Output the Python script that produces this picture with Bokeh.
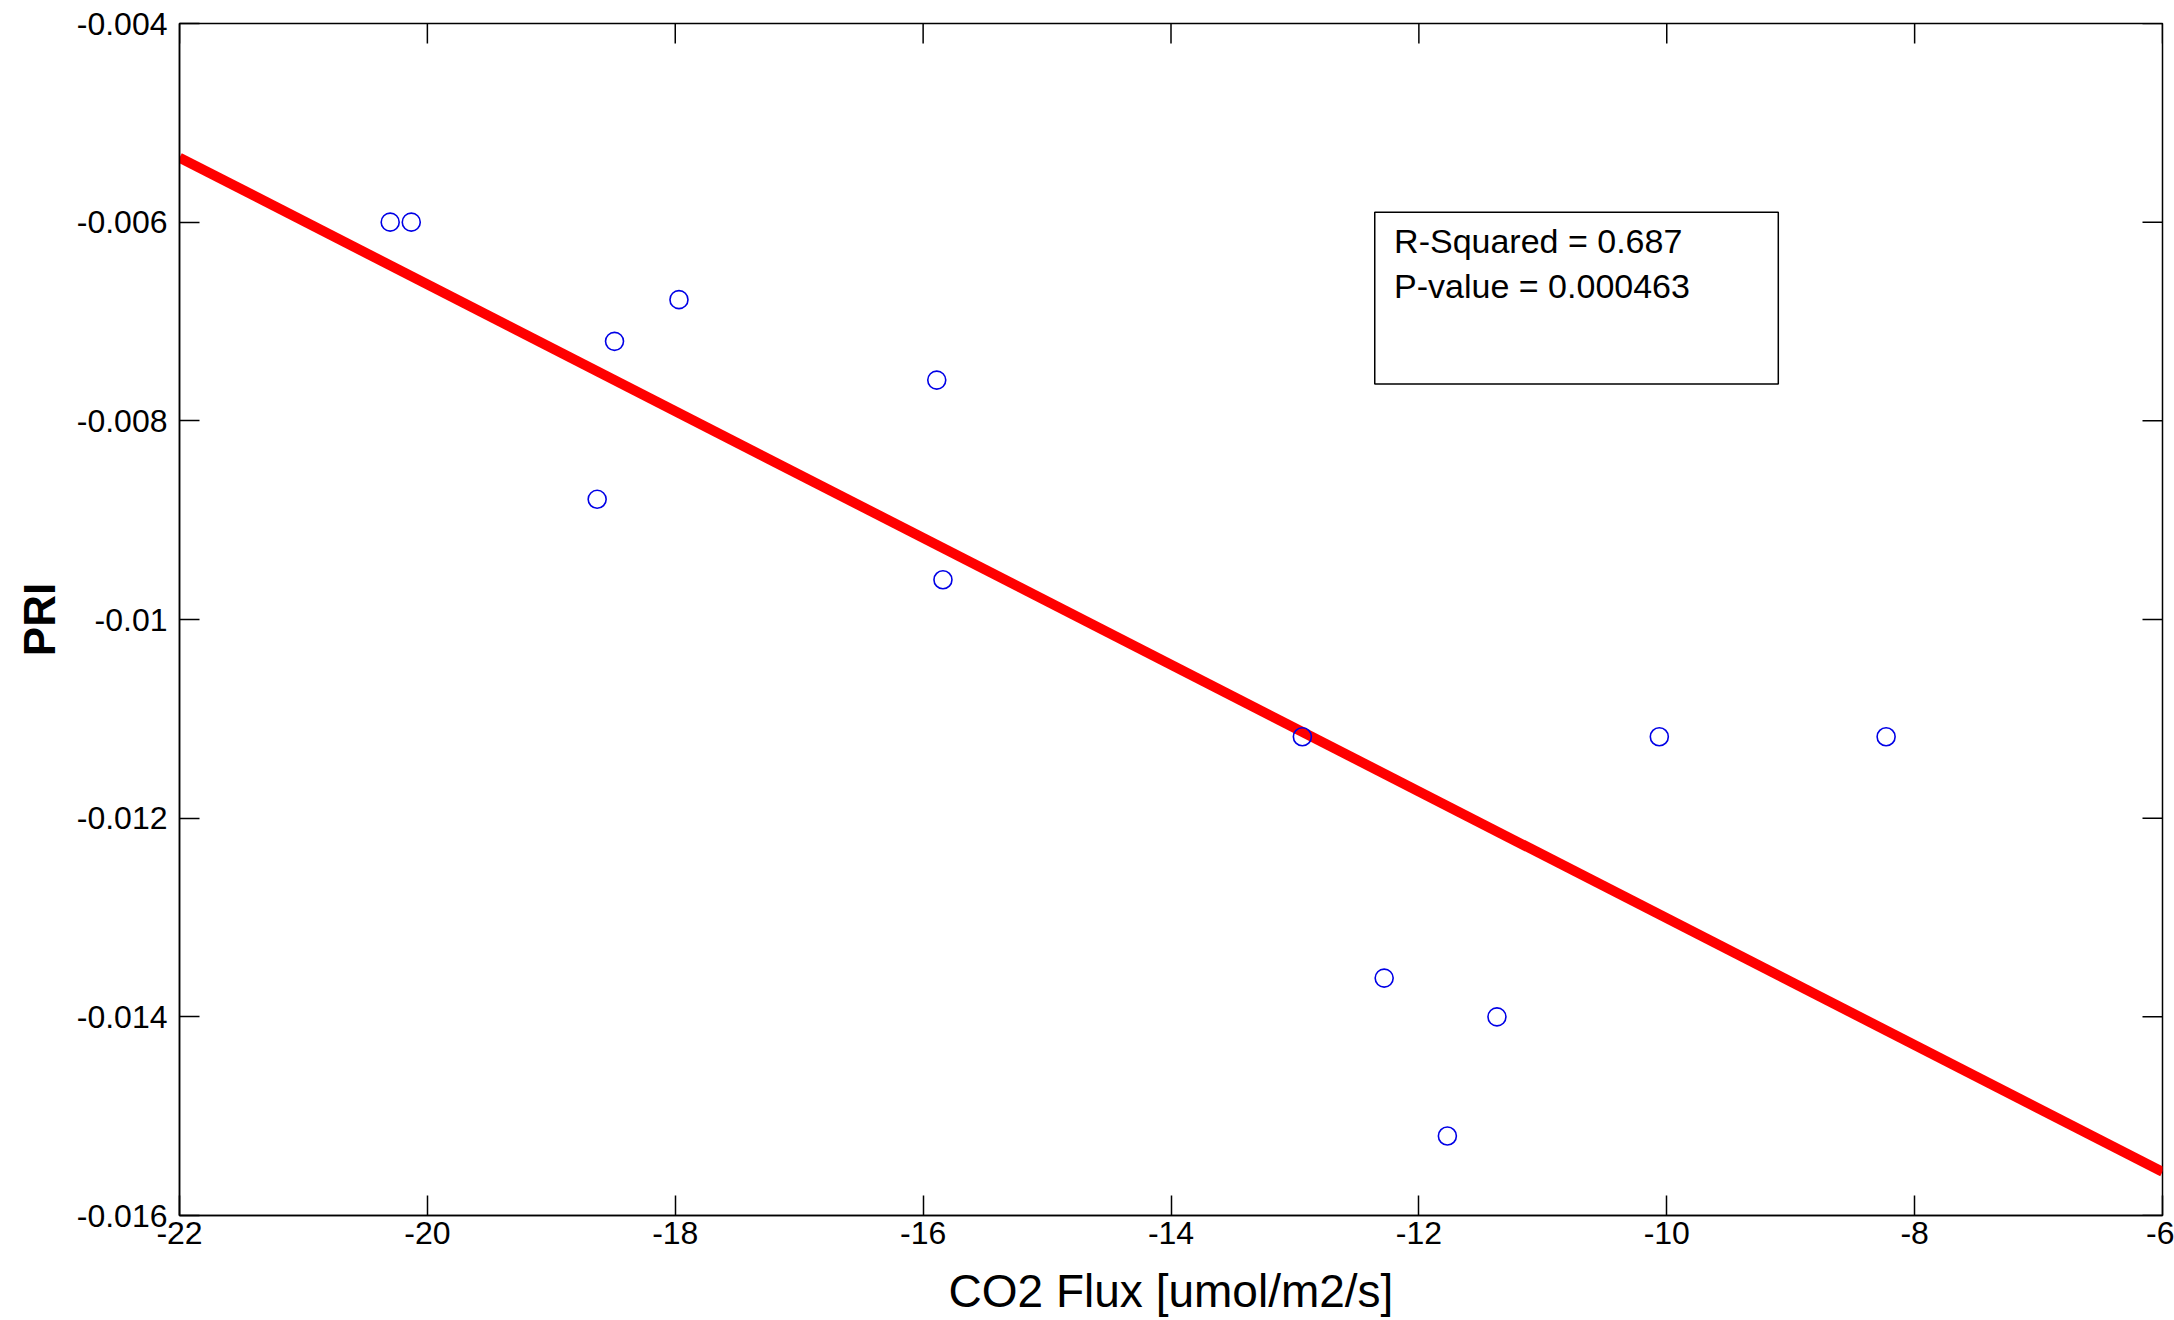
from bokeh.plotting import figure
from bokeh.models import Range1d, FixedTicker, BoxAnnotation, Label, ColumnDataSource
from bokeh.embed import file_html
from bokeh.resources import INLINE

# ---- data ----
co2_flux = [-20.30, -20.13, -17.97, -18.49, -18.63, -15.89, -15.84,
            -12.94, -10.06, -8.23, -12.28, -11.37, -11.77]
pri = [-0.0060, -0.0060, -0.00678, -0.0072, -0.00879, -0.00759, -0.0096,
       -0.01118, -0.01118, -0.01118, -0.01361, -0.0140, -0.0152]

fit_x = [-22.0, -6.0]
fit_y = [-0.00535, -0.01556]

x_ticks = [-22, -20, -18, -16, -14, -12, -10, -8, -6]
x_tick_labels = ["-22", "-20", "-18", "-16", "-14", "-12", "-10", "-8", "-6"]
y_ticks = [-0.016, -0.014, -0.012, -0.010, -0.008, -0.006, -0.004]
y_tick_labels = ["-0.016", "-0.014", "-0.012", "-0.01", "-0.008", "-0.006", "-0.004"]

stats_lines = ["R-Squared = 0.687", "P-value = 0.000463"]

FONT = "Liberation Sans"
TICK_FONT = "Liberation Sans Narrow, Liberation Sans"

W, H = 2174, 1320
BL, BT, BR, BB = 179, 23, 12, 105
FRAME_W = W - BL - BR
FRAME_H = H - BT - BB
X0, X1 = -22, -6
Y0, Y1 = -0.016, -0.004

p = figure(width=W, height=H,
           x_range=Range1d(X0, X1), y_range=Range1d(Y0, Y1),
           output_backend="svg", toolbar_location=None,
           min_border_left=BL, min_border_right=BR,
           min_border_top=BT, min_border_bottom=BB)
p.grid.visible = False
p.outline_line_color = "black"
p.outline_line_width = 1.5
p.background_fill_color = "white"
p.border_fill_color = "white"

TICK_PX = 20

def style(ax, ticker):
    ax.ticker = ticker
    ax.major_tick_in = TICK_PX
    ax.major_tick_out = 0
    ax.minor_tick_in = 0
    ax.minor_tick_out = 0
    ax.axis_line_color = "black"
    ax.axis_line_width = 1.5
    ax.major_tick_line_color = "black"
    ax.major_tick_line_width = 1.5
    ax.major_label_text_font = TICK_FONT
    ax.major_label_text_font_size = "32px"
    ax.major_label_text_color = "black"
    ax.axis_label_text_font = FONT
    ax.axis_label_text_font_size = "44px"
    ax.axis_label_text_color = "black"

style(p.xaxis[0], FixedTicker(ticks=x_ticks, minor_ticks=[]))
style(p.yaxis[0], FixedTicker(ticks=y_ticks, minor_ticks=[]))
p.xaxis[0].major_label_overrides = {t: s for t, s in zip(x_ticks, x_tick_labels)}
p.yaxis[0].major_label_overrides = {t: s for t, s in zip(y_ticks, y_tick_labels)}
p.xaxis[0].major_label_standoff = 6
p.yaxis[0].major_label_standoff = 12
p.xaxis[0].axis_label = "CO2 Flux [umol/m2/s]"
p.xaxis[0].axis_label_text_font_style = "normal"
p.xaxis[0].axis_label_text_font_size = "46px"
p.xaxis[0].axis_label_standoff = 18
p.yaxis[0].axis_label = "PRI"
p.yaxis[0].axis_label_text_font_style = "bold"
p.yaxis[0].axis_label_standoff = 10

# inward ticks on the top and right edges of the box (MATLAB style)
dy = (Y1 - Y0) * TICK_PX / FRAME_H
dx = (X1 - X0) * TICK_PX / FRAME_W
p.segment(x0=x_ticks, y0=[Y1] * len(x_ticks), x1=x_ticks, y1=[Y1 - dy] * len(x_ticks),
          line_color="black", line_width=1.5)
p.segment(x0=[X1] * len(y_ticks), y0=y_ticks, x1=[X1 - dx] * len(y_ticks), y1=y_ticks,
          line_color="black", line_width=1.5)

# regression line
p.line(fit_x, fit_y, line_color="#ff0000", line_width=10)

# data points
src = ColumnDataSource(dict(x=co2_flux, y=pri))
p.scatter("x", "y", source=src, marker="circle", size=18,
          fill_color=None, line_color="#0000e6", line_width=1.6)

# stats box
p.add_layout(BoxAnnotation(left=-12.356, right=-9.10, top=-0.0059, bottom=-0.007628,
                           fill_color="white", fill_alpha=1.0,
                           line_color="black", line_alpha=1.0, line_width=1.5))
p.add_layout(Label(x=-12.20, y=-0.006187, text=stats_lines[0],
                   text_font=FONT, text_font_size="34px", text_color="black",
                   text_baseline="alphabetic"))
p.add_layout(Label(x=-12.20, y=-0.006639, text=stats_lines[1],
                   text_font=FONT, text_font_size="34px", text_color="black",
                   text_baseline="alphabetic"))

open("out.html", "w").write(file_html(p, INLINE))
